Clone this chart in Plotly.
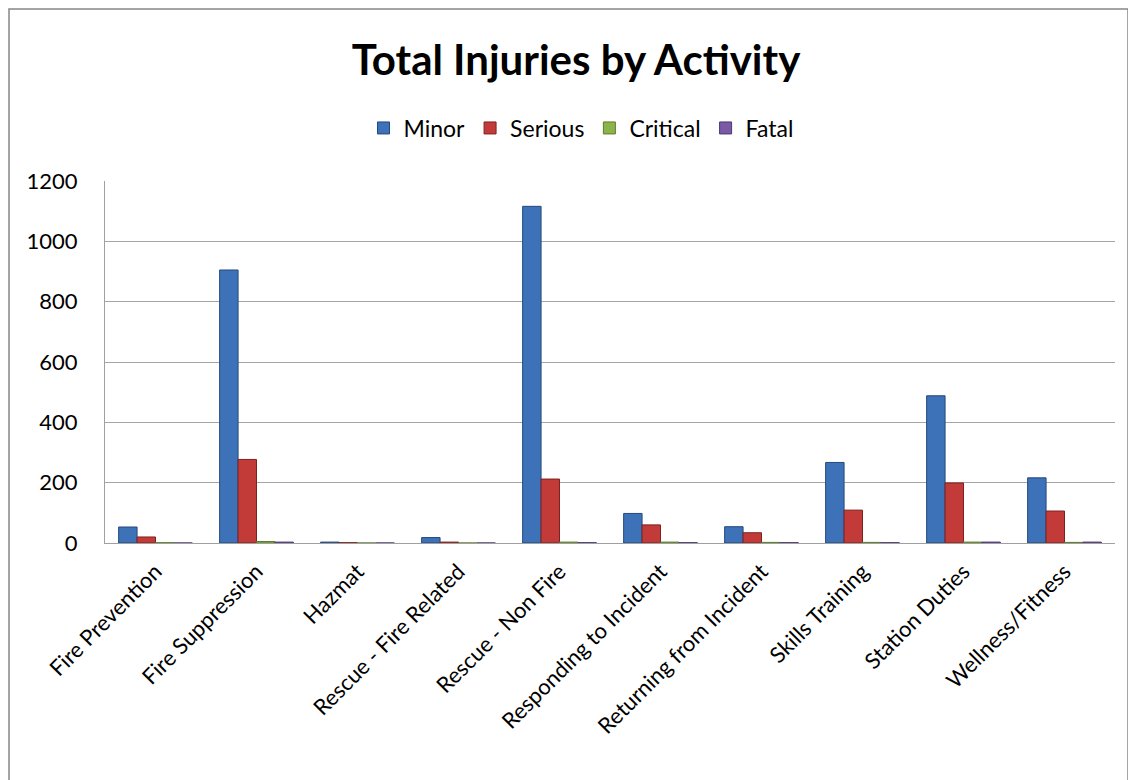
import plotly.graph_objects as go

categories = ["Fire Prevention", "Fire Suppression", "Hazmat", "Rescue - Fire Related",
              "Rescue - Non Fire", "Responding to Incident", "Returning from Incident",
              "Skills Training", "Station Duties", "Wellness/Fitness"]
minor = [53, 905, 3, 18, 1116, 98, 54, 267, 488, 216]
serious = [20, 277, 1, 3, 212, 60, 34, 109, 199, 106]
critical = [1, 5, 0, 0, 3, 3, 2, 2, 3, 2]
fatal = [0, 3, 0, 0, 1, 1, 1, 1, 3, 3]

series = [("Minor", minor, "#3D72B8", "#25487A"),
          ("Serious", serious, "#C23B38", "#7E2220"),
          ("Critical", critical, "#8DB44A", "#5E7E2C"),
          ("Fatal", fatal, "#7A5AA6", "#4E3870")]

FONT = "Lato"
fig = go.Figure()
for name, vals, col, edge in series:
    fig.add_trace(go.Bar(x=categories, y=vals, name=name,
                         marker=dict(color=col, line=dict(color=edge, width=1))))

W, H = 1136, 780
OFF = 8  # page body margin
L, R, T, B = 105 - OFF, 1115 - OFF, 181 - OFF, 543 - OFF
pw, ph = R - L, B - T

def px(x):
    return (x - OFF - L) / pw

def py(y):
    return (B - (y - OFF)) / ph

fig.update_layout(
    width=W, height=H,
    margin=dict(l=L, r=W - R, t=T, b=H - B),
    paper_bgcolor="white", plot_bgcolor="white",
    barmode="group", bargap=0.27, bargroupgap=0,
    title=dict(text="<b>Total Injuries by Activity</b>", x=(576 - OFF) / W, xanchor="center",
               y=1 - (60 - OFF) / H, yanchor="middle",
               font=dict(family=FONT, size=42, color="black")),
    legend=dict(orientation="h", x=px(581), xanchor="center", y=py(128), yanchor="middle",
                font=dict(family=FONT, size=23, color="black"),
                itemwidth=30, traceorder="normal"),
    font=dict(family=FONT, color="black"),
    xaxis=dict(tickangle=-45, tickfont=dict(family=FONT, size=22, color="black"),
               showline=True, linecolor="#A0A0A0", linewidth=1, ticks="",
               ticklabelstandoff=6,
               showgrid=False, range=[-0.5, 9.5]),
    yaxis=dict(range=[0, 1200], dtick=200, tickfont=dict(family=FONT, size=22, color="black"),
               showgrid=True, gridcolor="#A6A6A6", gridwidth=1,
               showline=True, linecolor="#A0A0A0", linewidth=1,
               ticks="", ticklen=0, zeroline=False, ticklabelstandoff=22),
    showlegend=True,
)

fig.add_shape(type="rect", xref="paper", yref="paper",
              x0=px(9), x1=px(1128), y0=py(820), y1=py(9),
              line=dict(color="#868686", width=1.5), fillcolor="rgba(0,0,0,0)", layer="below")

fig.write_html("out.html")
